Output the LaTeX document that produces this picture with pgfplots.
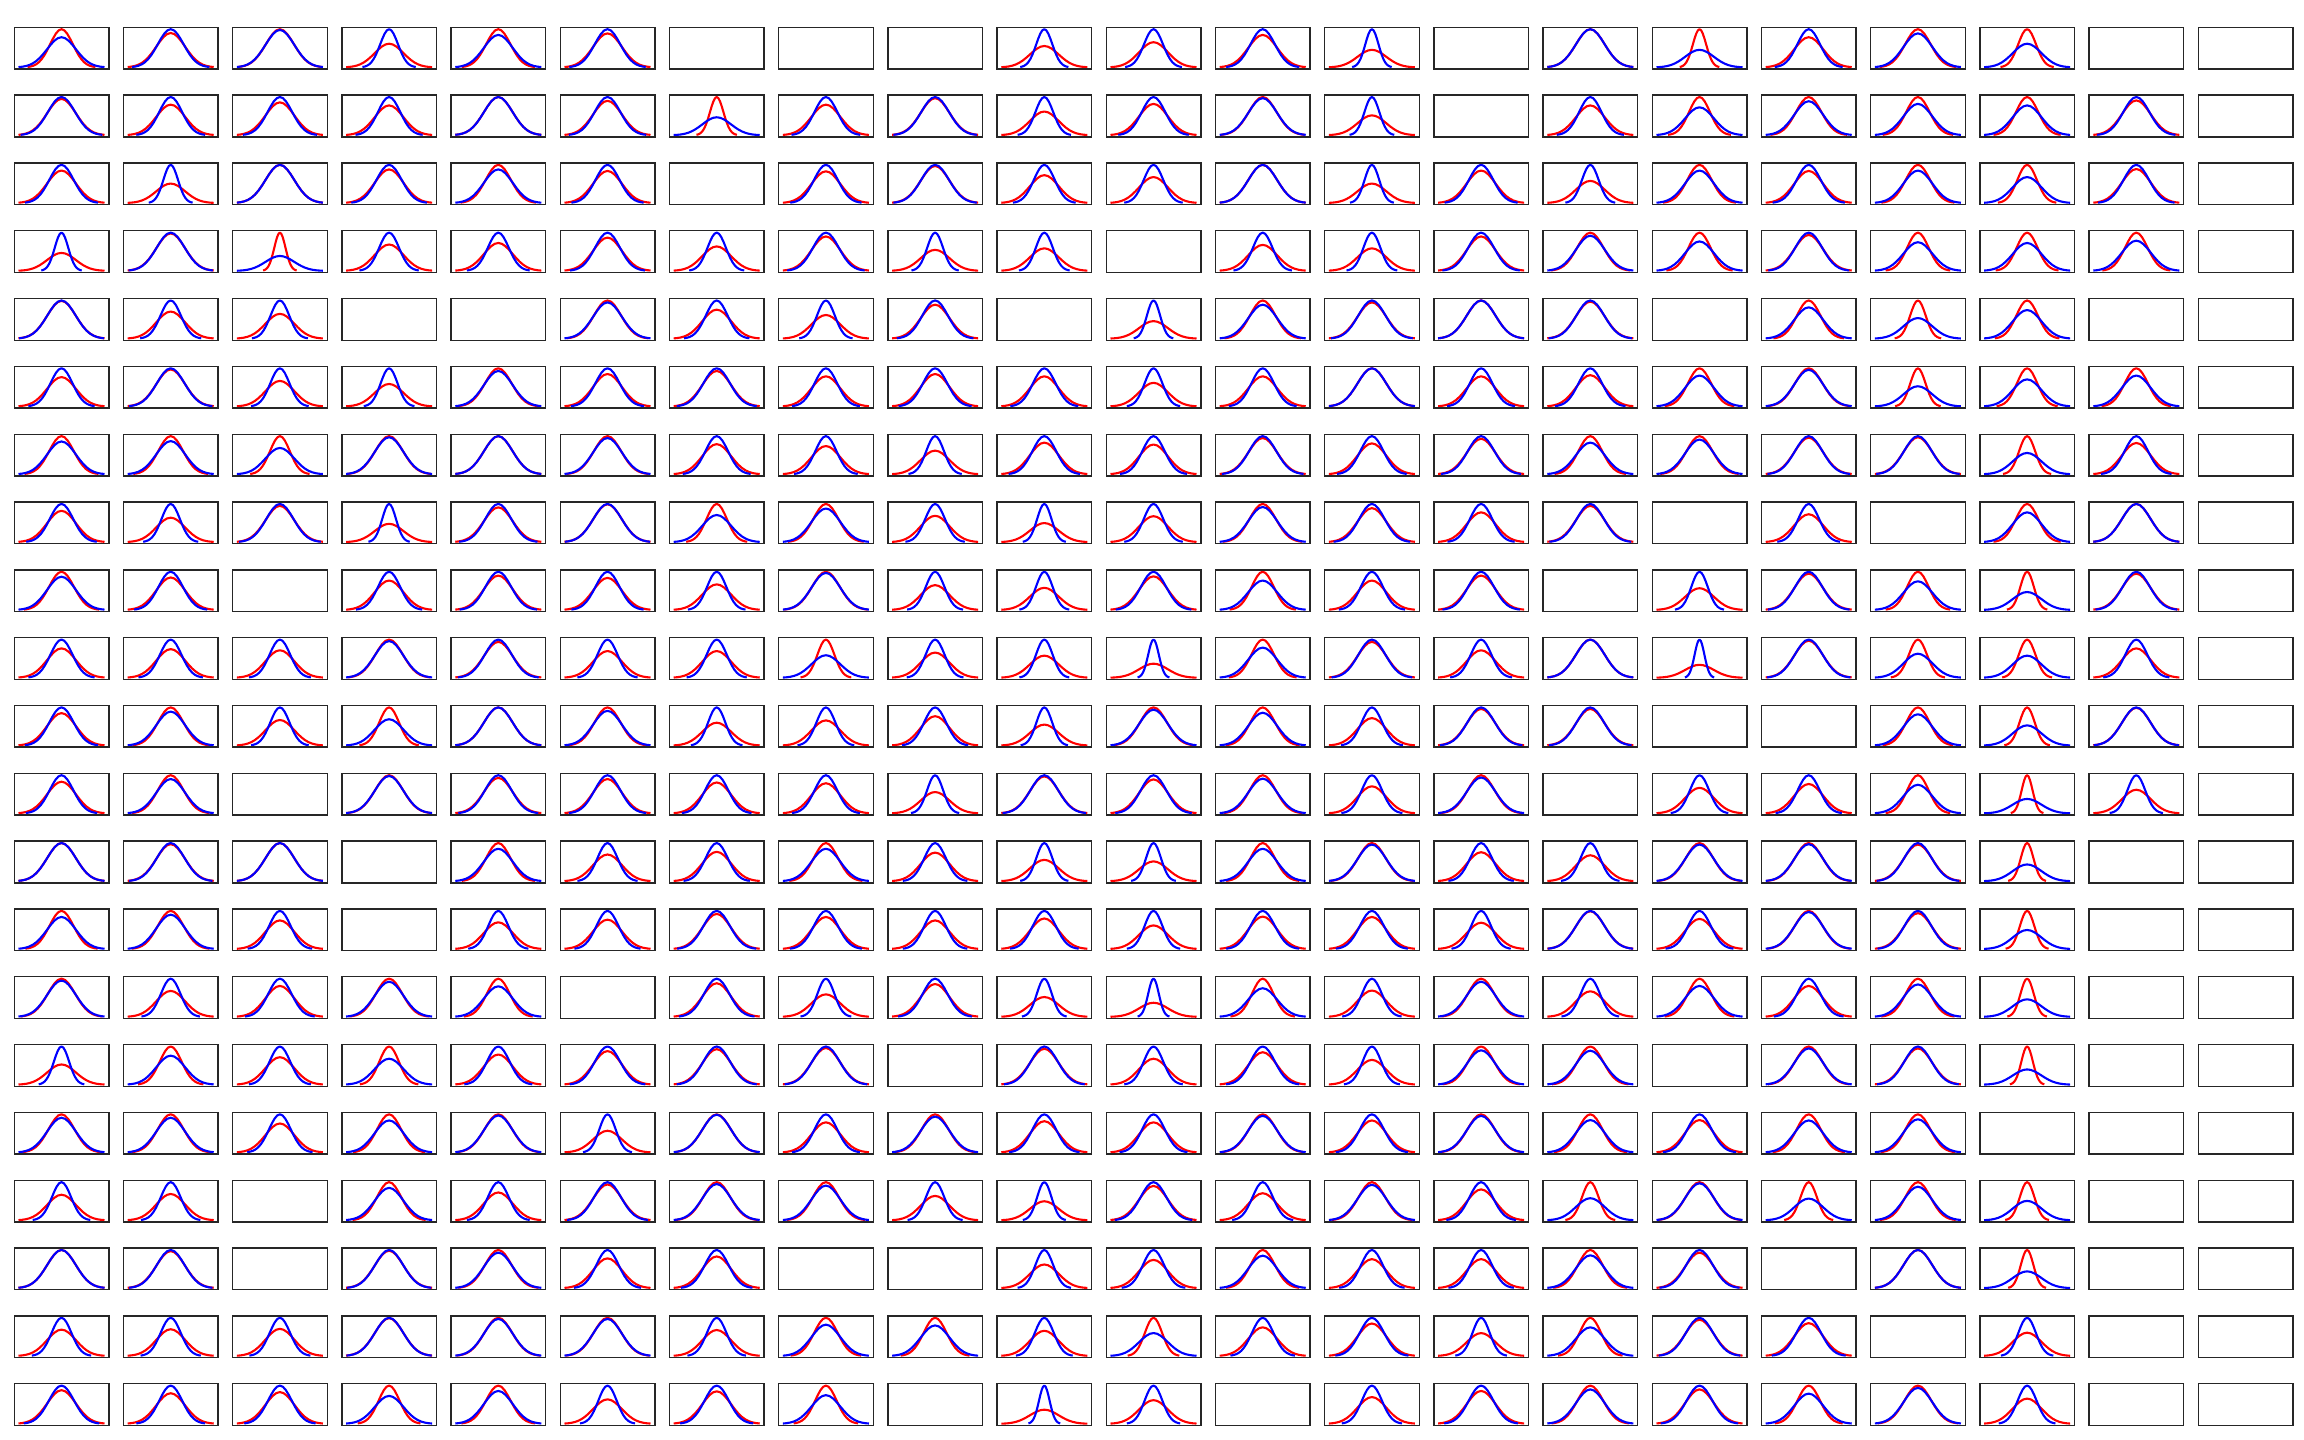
\documentclass[border=0pt]{standalone}
\usepackage{pgfplots}
\usepackage{pgfplotstable}
\pgfplotsset{compat=1.18}
% standard bell shape: z and exp(-z^2/2)
\pgfplotstableread{
z g
-3.00 0.01111
-2.75 0.02279
-2.50 0.04394
-2.25 0.07956
-2.00 0.13534
-1.75 0.21627
-1.50 0.32465
-1.25 0.45783
-1.00 0.60653
-0.75 0.75484
-0.50 0.88250
-0.25 0.96923
0.00 1.00000
0.25 0.96923
0.50 0.88250
0.75 0.75484
1.00 0.60653
1.25 0.45783
1.50 0.32465
1.75 0.21627
2.00 0.13534
2.25 0.07956
2.50 0.04394
2.75 0.02279
3.00 0.01111
}\shape
\pgfplotsset{panel/.style={scale only axis,width=47.3pt,height=20.85pt,anchor=north west,
  xmin=-3.3,xmax=3.3,ymin=-0.0405,ymax=1.0496,ticks=none,axis on top,
  axis line style={line width=0.7pt,black!85},
  every axis plot/.append style={line width=1.05pt,no markers,line join=round}}}
% R: red narrower (k = sigma ratio), B: blue narrower, E: empty
\newcommand\plotR[1]{\addplot[red] table[x expr=\thisrow{z}*#1,y=g]{\shape};
  \addplot[blue] table[x=z,y expr=\thisrow{g}*#1]{\shape};}
\newcommand\plotB[1]{\addplot[red] table[x=z,y expr=\thisrow{g}*#1]{\shape};
  \addplot[blue] table[x expr=\thisrow{z}*#1,y=g]{\shape};}
\newcommand\plotE[1]{}
\newcommand\pan[4]{%
  \pgfmathsetmacro\px{7.1+(#2-1)*54.6}%
  \pgfmathsetmacro\py{706.35-(#1-1)*33.91}%
  \begin{axis}[panel,at={(\px pt,\py pt)}]
  \csname plot#3\endcsname{#4}
  \end{axis}}
\begin{document}
\begin{tikzpicture}
\useasboundingbox (0,0) rectangle (1152pt,720pt);
% row 1
\pan{1}{1}R{0.79}\pan{1}{2}B{0.90}\pan{1}{3}R{0.98}\pan{1}{4}B{0.62}\pan{1}{5}R{0.85}\pan{1}{6}B{0.89}\pan{1}{7}E{1}\pan{1}{8}E{1}\pan{1}{9}E{1}\pan{1}{10}B{0.56}\pan{1}{11}B{0.66}\pan{1}{12}B{0.85}\pan{1}{13}B{0.46}\pan{1}{14}E{1}\pan{1}{15}B{1.00}\pan{1}{16}R{0.46}\pan{1}{17}B{0.79}\pan{1}{18}R{0.89}\pan{1}{19}R{0.62}\pan{1}{20}E{1}\pan{1}{21}E{1}
% row 2
\pan{2}{1}B{0.95}\pan{2}{2}B{0.80}\pan{2}{3}B{0.86}\pan{2}{4}B{0.78}\pan{2}{5}B{1.00}\pan{2}{6}B{0.90}\pan{2}{7}R{0.47}\pan{2}{8}B{0.80}\pan{2}{9}B{0.97}\pan{2}{10}B{0.62}\pan{2}{11}B{0.82}\pan{2}{12}R{0.97}\pan{2}{13}B{0.52}\pan{2}{14}E{1}\pan{2}{15}B{0.78}\pan{2}{16}R{0.73}\pan{2}{17}R{0.89}\pan{2}{18}R{0.82}\pan{2}{19}R{0.78}\pan{2}{20}B{0.91}\pan{2}{21}E{1}
% row 3
\pan{3}{1}B{0.85}\pan{3}{2}B{0.51}\pan{3}{3}B{1.00}\pan{3}{4}B{0.88}\pan{3}{5}R{0.88}\pan{3}{6}B{0.84}\pan{3}{7}E{1}\pan{3}{8}B{0.83}\pan{3}{9}B{0.97}\pan{3}{10}B{0.73}\pan{3}{11}B{0.68}\pan{3}{12}B{1.00}\pan{3}{13}B{0.51}\pan{3}{14}B{0.85}\pan{3}{15}B{0.58}\pan{3}{16}R{0.85}\pan{3}{17}B{0.84}\pan{3}{18}R{0.85}\pan{3}{19}R{0.68}\pan{3}{20}B{0.89}\pan{3}{21}E{1}
% row 4
\pan{4}{1}B{0.47}\pan{4}{2}B{0.98}\pan{4}{3}R{0.39}\pan{4}{4}B{0.69}\pan{4}{5}B{0.73}\pan{4}{6}B{0.87}\pan{4}{7}B{0.64}\pan{4}{8}B{0.90}\pan{4}{9}B{0.55}\pan{4}{10}B{0.59}\pan{4}{11}E{1}\pan{4}{12}B{0.68}\pan{4}{13}B{0.59}\pan{4}{14}B{0.90}\pan{4}{15}R{0.92}\pan{4}{16}R{0.77}\pan{4}{17}B{0.94}\pan{4}{18}R{0.75}\pan{4}{19}R{0.73}\pan{4}{20}R{0.79}\pan{4}{21}E{1}
% row 5
\pan{5}{1}B{0.99}\pan{5}{2}B{0.71}\pan{5}{3}B{0.65}\pan{5}{4}E{1}\pan{5}{5}E{1}\pan{5}{6}R{0.95}\pan{5}{7}B{0.76}\pan{5}{8}B{0.62}\pan{5}{9}B{0.89}\pan{5}{10}E{1}\pan{5}{11}B{0.46}\pan{5}{12}R{0.89}\pan{5}{13}B{0.95}\pan{5}{14}B{1.00}\pan{5}{15}B{0.97}\pan{5}{16}E{1}\pan{5}{17}R{0.82}\pan{5}{18}R{0.54}\pan{5}{19}R{0.75}\pan{5}{20}E{1}\pan{5}{21}E{1}
% row 6
\pan{6}{1}B{0.77}\pan{6}{2}B{0.97}\pan{6}{3}B{0.67}\pan{6}{4}B{0.59}\pan{6}{5}R{0.93}\pan{6}{6}B{0.85}\pan{6}{7}B{0.93}\pan{6}{8}B{0.79}\pan{6}{9}B{0.85}\pan{6}{10}B{0.79}\pan{6}{11}B{0.62}\pan{6}{12}B{0.79}\pan{6}{13}B{1.00}\pan{6}{14}B{0.79}\pan{6}{15}B{0.82}\pan{6}{16}R{0.81}\pan{6}{17}R{0.96}\pan{6}{18}R{0.53}\pan{6}{19}R{0.71}\pan{6}{20}R{0.81}\pan{6}{21}E{1}
% row 7
\pan{7}{1}R{0.86}\pan{7}{2}R{0.87}\pan{7}{3}R{0.69}\pan{7}{4}R{0.97}\pan{7}{5}B{1.00}\pan{7}{6}R{0.95}\pan{7}{7}B{0.79}\pan{7}{8}B{0.74}\pan{7}{9}B{0.62}\pan{7}{10}B{0.83}\pan{7}{11}B{0.78}\pan{7}{12}B{0.95}\pan{7}{13}B{0.81}\pan{7}{14}B{0.93}\pan{7}{15}R{0.83}\pan{7}{16}R{0.91}\pan{7}{17}B{0.96}\pan{7}{18}B{0.97}\pan{7}{19}R{0.56}\pan{7}{20}B{0.82}\pan{7}{21}E{1}
% row 8
\pan{8}{1}B{0.82}\pan{8}{2}B{0.64}\pan{8}{3}B{0.95}\pan{8}{4}B{0.48}\pan{8}{5}B{0.91}\pan{8}{6}B{0.99}\pan{8}{7}R{0.71}\pan{8}{8}R{0.88}\pan{8}{9}B{0.69}\pan{8}{10}B{0.50}\pan{8}{11}B{0.68}\pan{8}{12}R{0.92}\pan{8}{13}B{0.89}\pan{8}{14}B{0.78}\pan{8}{15}B{0.95}\pan{8}{16}E{1}\pan{8}{17}B{0.73}\pan{8}{18}E{1}\pan{8}{19}R{0.78}\pan{8}{20}B{1.00}\pan{8}{21}E{1}
% row 9
\pan{9}{1}R{0.87}\pan{9}{2}B{0.85}\pan{9}{3}E{1}\pan{9}{4}B{0.77}\pan{9}{5}B{0.90}\pan{9}{6}B{0.84}\pan{9}{7}B{0.67}\pan{9}{8}R{0.97}\pan{9}{9}B{0.65}\pan{9}{10}B{0.58}\pan{9}{11}B{0.88}\pan{9}{12}R{0.77}\pan{9}{13}B{0.77}\pan{9}{14}B{0.90}\pan{9}{15}E{1}\pan{9}{16}B{0.57}\pan{9}{17}B{0.95}\pan{9}{18}R{0.75}\pan{9}{19}R{0.47}\pan{9}{20}B{0.95}\pan{9}{21}E{1}
% row 10
\pan{10}{1}B{0.77}\pan{10}{2}B{0.75}\pan{10}{3}B{0.72}\pan{10}{4}R{0.96}\pan{10}{5}B{0.94}\pan{10}{6}B{0.70}\pan{10}{7}B{0.70}\pan{10}{8}R{0.59}\pan{10}{9}B{0.66}\pan{10}{10}B{0.58}\pan{10}{11}B{0.37}\pan{10}{12}R{0.79}\pan{10}{13}B{0.94}\pan{10}{14}B{0.72}\pan{10}{15}B{1.00}\pan{10}{16}B{0.34}\pan{10}{17}B{0.97}\pan{10}{18}R{0.63}\pan{10}{19}R{0.58}\pan{10}{20}B{0.77}\pan{10}{21}E{1}
% row 11
\pan{11}{1}B{0.85}\pan{11}{2}R{0.89}\pan{11}{3}B{0.67}\pan{11}{4}R{0.69}\pan{11}{5}B{1.00}\pan{11}{6}R{0.91}\pan{11}{7}B{0.60}\pan{11}{8}B{0.66}\pan{11}{9}B{0.77}\pan{11}{10}B{0.55}\pan{11}{11}R{0.94}\pan{11}{12}R{0.86}\pan{11}{13}B{0.72}\pan{11}{14}B{0.96}\pan{11}{15}B{0.96}\pan{11}{16}E{1}\pan{11}{17}E{1}\pan{11}{18}R{0.82}\pan{11}{19}R{0.53}\pan{11}{20}B{0.99}\pan{11}{21}E{1}
% row 12
\pan{12}{1}B{0.83}\pan{12}{2}R{0.90}\pan{12}{3}E{1}\pan{12}{4}R{0.98}\pan{12}{5}B{0.93}\pan{12}{6}B{0.90}\pan{12}{7}B{0.81}\pan{12}{8}B{0.79}\pan{12}{9}B{0.56}\pan{12}{10}B{0.97}\pan{12}{11}B{0.89}\pan{12}{12}R{0.91}\pan{12}{13}B{0.71}\pan{12}{14}R{0.94}\pan{12}{15}E{1}\pan{12}{16}B{0.67}\pan{12}{17}B{0.77}\pan{12}{18}R{0.75}\pan{12}{19}R{0.38}\pan{12}{20}B{0.62}\pan{12}{21}E{1}
% row 13
\pan{13}{1}B{1.00}\pan{13}{2}B{0.97}\pan{13}{3}B{1.00}\pan{13}{4}E{1}\pan{13}{5}R{0.85}\pan{13}{6}B{0.70}\pan{13}{7}B{0.77}\pan{13}{8}R{0.85}\pan{13}{9}B{0.75}\pan{13}{10}B{0.56}\pan{13}{11}B{0.52}\pan{13}{12}R{0.85}\pan{13}{13}R{0.96}\pan{13}{14}B{0.76}\pan{13}{15}B{0.68}\pan{13}{16}R{0.96}\pan{13}{17}R{0.97}\pan{13}{18}B{0.96}\pan{13}{19}R{0.44}\pan{13}{20}E{1}\pan{13}{21}E{1}
% row 14
\pan{14}{1}R{0.84}\pan{14}{2}R{0.90}\pan{14}{3}B{0.75}\pan{14}{4}E{1}\pan{14}{5}B{0.70}\pan{14}{6}B{0.77}\pan{14}{7}B{0.92}\pan{14}{8}B{0.84}\pan{14}{9}B{0.75}\pan{14}{10}B{0.80}\pan{14}{11}B{0.62}\pan{14}{12}B{0.85}\pan{14}{13}B{0.84}\pan{14}{14}B{0.69}\pan{14}{15}B{0.99}\pan{14}{16}B{0.79}\pan{14}{17}R{0.97}\pan{14}{18}B{0.94}\pan{14}{19}R{0.50}\pan{14}{20}E{1}\pan{14}{21}E{1}
% row 15
\pan{15}{1}R{0.95}\pan{15}{2}B{0.68}\pan{15}{3}B{0.81}\pan{15}{4}R{0.92}\pan{15}{5}R{0.80}\pan{15}{6}E{1}\pan{15}{7}B{0.88}\pan{15}{8}B{0.59}\pan{15}{9}B{0.86}\pan{15}{10}B{0.52}\pan{15}{11}B{0.37}\pan{15}{12}R{0.75}\pan{15}{13}B{0.69}\pan{15}{14}R{0.92}\pan{15}{15}B{0.67}\pan{15}{16}R{0.81}\pan{15}{17}B{0.81}\pan{15}{18}R{0.85}\pan{15}{19}R{0.46}\pan{15}{20}E{1}\pan{15}{21}E{1}
% row 16
\pan{16}{1}B{0.53}\pan{16}{2}R{0.76}\pan{16}{3}B{0.72}\pan{16}{4}R{0.68}\pan{16}{5}B{0.79}\pan{16}{6}B{0.88}\pan{16}{7}B{0.93}\pan{16}{8}B{0.96}\pan{16}{9}E{1}\pan{16}{10}B{0.94}\pan{16}{11}B{0.68}\pan{16}{12}B{0.85}\pan{16}{13}B{0.65}\pan{16}{14}R{0.90}\pan{16}{15}R{0.89}\pan{16}{16}E{1}\pan{16}{17}R{0.95}\pan{16}{18}B{0.95}\pan{16}{19}R{0.40}\pan{16}{20}E{1}\pan{16}{21}E{1}
% row 17
\pan{17}{1}R{0.91}\pan{17}{2}R{0.91}\pan{17}{3}B{0.76}\pan{17}{4}R{0.84}\pan{17}{5}R{0.97}\pan{17}{6}B{0.57}\pan{17}{7}R{0.99}\pan{17}{8}B{0.79}\pan{17}{9}R{0.94}\pan{17}{10}B{0.82}\pan{17}{11}B{0.79}\pan{17}{12}R{0.96}\pan{17}{13}B{0.84}\pan{17}{14}R{0.96}\pan{17}{15}R{0.85}\pan{17}{16}B{0.85}\pan{17}{17}R{0.84}\pan{17}{18}R{0.87}\pan{17}{19}E{1}\pan{17}{20}E{1}\pan{17}{21}E{1}
% row 18
\pan{18}{1}B{0.67}\pan{18}{2}B{0.69}\pan{18}{3}E{1}\pan{18}{4}R{0.85}\pan{18}{5}B{0.73}\pan{18}{6}B{0.94}\pan{18}{7}R{0.95}\pan{18}{8}R{0.91}\pan{18}{9}B{0.64}\pan{18}{10}B{0.50}\pan{18}{11}B{0.90}\pan{18}{12}B{0.71}\pan{18}{13}R{0.93}\pan{18}{14}B{0.81}\pan{18}{15}R{0.58}\pan{18}{16}R{0.97}\pan{18}{17}R{0.57}\pan{18}{18}R{0.88}\pan{18}{19}R{0.51}\pan{18}{20}E{1}\pan{18}{21}E{1}
% row 19
\pan{19}{1}B{1.00}\pan{19}{2}B{0.97}\pan{19}{3}E{1}\pan{19}{4}B{0.98}\pan{19}{5}R{0.93}\pan{19}{6}B{0.78}\pan{19}{7}B{0.83}\pan{19}{8}E{1}\pan{19}{9}E{1}\pan{19}{10}B{0.62}\pan{19}{11}B{0.74}\pan{19}{12}R{0.85}\pan{19}{13}B{0.76}\pan{19}{14}B{0.76}\pan{19}{15}R{0.86}\pan{19}{16}B{0.93}\pan{19}{17}E{1}\pan{19}{18}B{1.00}\pan{19}{19}R{0.44}\pan{19}{20}E{1}\pan{19}{21}E{1}
% row 20
\pan{20}{1}B{0.69}\pan{20}{2}B{0.70}\pan{20}{3}B{0.71}\pan{20}{4}B{0.99}\pan{20}{5}R{0.97}\pan{20}{6}R{0.97}\pan{20}{7}B{0.68}\pan{20}{8}R{0.82}\pan{20}{9}R{0.80}\pan{20}{10}B{0.66}\pan{20}{11}R{0.60}\pan{20}{12}B{0.75}\pan{20}{13}B{0.85}\pan{20}{14}B{0.60}\pan{20}{15}R{0.75}\pan{20}{16}B{0.95}\pan{20}{17}B{0.86}\pan{20}{18}E{1}\pan{20}{19}B{0.61}\pan{20}{20}E{1}\pan{20}{21}E{1}
% row 21
\pan{21}{1}B{0.88}\pan{21}{2}B{0.80}\pan{21}{3}B{0.83}\pan{21}{4}R{0.73}\pan{21}{5}R{0.86}\pan{21}{6}B{0.64}\pan{21}{7}B{0.85}\pan{21}{8}R{0.75}\pan{21}{9}E{1}\pan{21}{10}B{0.37}\pan{21}{11}B{0.62}\pan{21}{12}E{1}\pan{21}{13}B{0.70}\pan{21}{14}B{0.86}\pan{21}{15}R{0.90}\pan{21}{16}B{0.90}\pan{21}{17}R{0.79}\pan{21}{18}R{0.94}\pan{21}{19}B{0.66}\pan{21}{20}E{1}\pan{21}{21}E{1}
\end{tikzpicture}
\end{document}
